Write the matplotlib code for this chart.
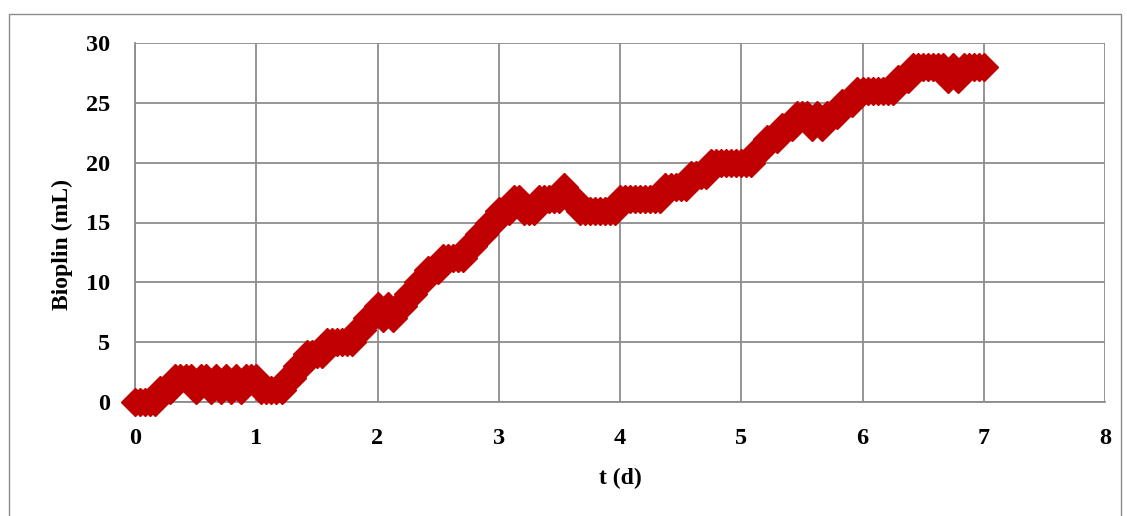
import numpy as np
import matplotlib
matplotlib.use("Agg")
import matplotlib.pyplot as plt
from matplotlib.patches import Rectangle

# Biogas volume (mL)
volume = [
    0, 0, 0, 0, 0, 1, 1, 1, 2, 2, 2, 2,
    1, 2, 2, 1, 2, 1, 2, 1, 2, 1, 2, 2,
    2, 1, 1, 1, 1, 1, 2, 2, 3, 3, 4, 4,
    4, 4, 5, 5, 5, 5, 5, 5, 6, 6, 7, 7,
    8, 7, 8, 7, 8, 8, 9, 9, 10, 10, 11, 11,
    11, 12, 12, 12, 12, 12, 13, 13, 14, 14, 15, 15,
    16, 16, 16, 17, 17, 16, 16, 16, 17, 17, 17, 17,
    17, 18, 17, 17, 16, 16, 16, 16, 16, 16, 16, 16,
    17, 17, 17, 17, 17, 17, 17, 17, 17, 18, 18, 18,
    18, 18, 19, 19, 19, 19, 20, 20, 20, 20, 20, 20,
    20, 20, 20, 21, 21, 22, 22, 22, 23, 23, 23, 24,
    24, 24, 23, 24, 23, 24, 24, 24, 25, 25, 25, 26,
    26, 26, 26, 26, 26, 26, 26, 27, 27, 27, 28, 28,
    28, 28, 28, 28, 28, 27, 28, 27, 28, 28, 28, 28,
    28,
]
hours = np.arange(len(volume))
t_days = hours / 24.0

x_ticks = [0, 1, 2, 3, 4, 5, 6, 7, 8]
y_ticks = [0, 5, 10, 15, 20, 25, 30]

W, H = 1127, 516
fig = plt.figure(figsize=(W / 100, H / 100), dpi=100)
fig.patches.append(Rectangle((9 / W, -0.01), (1121 - 9) / W, 1 - 14 / H + 0.01,
                             transform=fig.transFigure, fill=False,
                             edgecolor="#8c8c8c", linewidth=1.0))

ax = fig.add_axes([135 / W, 1 - 402 / H, (1105 - 135) / W, (402 - 43) / H])
ax.set_xlim(0, 8)
ax.set_ylim(0, 30)
ax.set_xticks(x_ticks)
ax.set_yticks(y_ticks)
ax.grid(True, color="#8c8c8c", linewidth=1.3)
ax.set_axisbelow(True)
for s in ["top", "right"]:
    ax.spines[s].set_visible(False)
for s in ["left", "bottom"]:
    ax.spines[s].set_color("#8c8c8c")
    ax.spines[s].set_linewidth(1.3)

ax.plot(t_days, volume, linestyle="none", marker="D", markersize=14,
        color="#C00000", markeredgecolor="#C00000", markeredgewidth=1.0,
        clip_on=False, zorder=3)

font = dict(family="Liberation Serif", weight="bold", size=17)
ax.tick_params(length=0, pad=19)
ax.tick_params(axis="y", pad=18)
for lab in ax.get_xticklabels() + ax.get_yticklabels():
    lab.set_fontfamily("Liberation Serif")
    lab.set_fontweight("bold")
    lab.set_fontsize(17.5)

fig.text(620 / W, 1 - 478 / H, "t (d)", ha="center", va="center", **font)
fig.text(62 / W, 1 - 245 / H, "Bioplin (mL)", ha="center", va="center",
         rotation=90, **font)

fig.savefig("out.png", dpi=100)
